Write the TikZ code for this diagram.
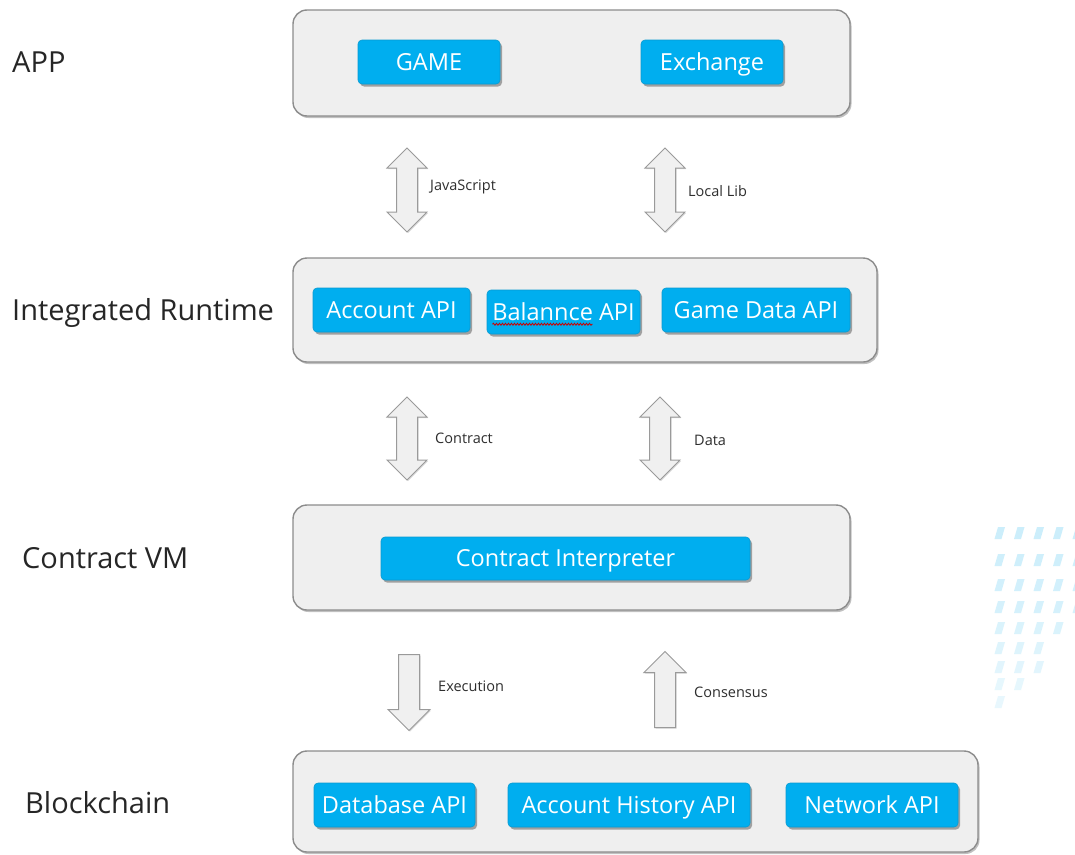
\documentclass[tikz,border=0pt]{standalone}
\usepackage{fontspec}
\setmainfont{Open Sans}
\usetikzlibrary{shapes.arrows,shadows,calc,decorations.pathmorphing}

\definecolor{layerfill}{HTML}{EFEFEF}
\definecolor{layerline}{HTML}{8C8C8C}
\definecolor{apiblue}{HTML}{00AEEF}
\definecolor{apiline}{HTML}{0A9AD0}
\definecolor{arrowfill}{HTML}{F0F0F0}
\definecolor{arrowline}{HTML}{9A9A9A}
\definecolor{notetext}{HTML}{2E2E2E}
\definecolor{labeltext}{HTML}{262626}
\definecolor{dotblue}{HTML}{C4ECFB}

\tikzset{
  layer/.style={draw=layerline, line width=1.4pt, fill=layerfill,
    rounded corners=14pt, inner sep=0pt,
    drop shadow={shadow xshift=1.5pt, shadow yshift=-2pt, opacity=0.35, fill=black!70}},
  api/.style={draw=apiline, line width=0.6pt, fill=apiblue, rounded corners=4pt,
    text=white, font=\fontsize{23.5}{26}\selectfont, inner sep=0pt,
    text height=17pt, text depth=0.5pt, minimum height=44pt,
    drop shadow={shadow xshift=2pt, shadow yshift=-2.5pt, opacity=0.45, fill=black!75}},
  tier/.style={anchor=base west, text=labeltext, font=\fontsize{29}{34}\selectfont, inner sep=0pt},
  note/.style={anchor=west, text=notetext, font=\fontsize{14.5}{17}\selectfont, inner sep=0pt},
  bothways/.style={double arrow, draw=arrowline, fill=arrowfill, line width=1pt,
    inner xsep=0pt, inner ysep=10pt, minimum width=39pt, double arrow head extend=9.5pt,
    double arrow tip angle=90, rotate=90,
    drop shadow={shadow xshift=1pt, shadow yshift=-1pt, opacity=0.25, fill=black!60}},
  oneway/.style={single arrow, draw=arrowline, fill=arrowfill, line width=1pt,
    inner xsep=0pt, inner ysep=10pt, minimum width=41pt, single arrow head extend=10.5pt,
    single arrow tip angle=90, anchor=tail,
    drop shadow={shadow xshift=1pt, shadow yshift=-1pt, opacity=0.25, fill=black!60}},
  spellcheck/.style={draw=red!80!black, line width=0.8pt,
    decorate, decoration={snake, amplitude=1pt, segment length=3pt}},
}

\begin{document}
\begin{tikzpicture}[x=1pt, y=-1pt]
\useasboundingbox[fill=white] (0,0) rectangle (1075,854);

% faint dotted pattern at the right edge
\foreach \row/\yy/\cnt/\op in {0/533/5/0.85, 1/560/5/0.8, 2/585/5/0.75, 3/607/5/0.7,
    4/628/4/0.62, 5/648/3/0.55, 6/667/3/0.48, 7/684/2/0.42, 8/702/1/0.38} {
  \foreach \col in {1,...,\cnt} {
    \pgfmathsetmacro{\xx}{978 + 19.5*\col}
    \fill[dotblue, opacity=\op] (\xx-3,\yy+6) -- (\xx+0.5,\yy-6) -- (\xx+7.5,\yy-6) -- (\xx+4,\yy+6) -- cycle;
  }
}

% tier titles
\node[tier] (tApp)  at (12,72)  {APP};
\node[tier] (tRun)  at (12,320) {Integrated Runtime};
\node[tier] (tVM)   at (22,568) {Contract VM};
\node[tier] (tBc)   at (25,813) {Blockchain};

% layer frames
\node[layer, minimum width=557pt, minimum height=106pt] (app) at (571.5,63) {};
\node[layer, minimum width=584pt, minimum height=104pt] (run) at (585,310) {};
\node[layer, minimum width=557pt, minimum height=105pt] (vm)  at (571.5,557.5) {};
\node[layer, minimum width=685pt, minimum height=101pt] (bc)  at (635.5,801.5) {};

% components
\node[api, minimum width=142pt] (game) at (429,62)  {GAME};
\node[api, minimum width=142pt] (exch) at (712,62)  {Exchange};

\node[api, minimum width=157pt] (acc)  at (391.5,310) {Account API};
\node[api, minimum width=153pt] (bal)  at (563.5,312) {Balannce API};
\node[api, minimum width=188pt] (gdat) at (756,310)   {Game Data API};

\node[api, minimum width=369pt, minimum height=43pt] (interp) at (565.5,558.5) {Contract Interpreter};

\node[api, minimum width=161pt] (db)   at (394.5,805) {Database API};
\node[api, minimum width=242pt] (hist) at (629,805)   {Account History API};
\node[api, minimum width=172pt] (net)  at (872,805)   {Network API};

% spell-check mark under the misspelt word
\draw[spellcheck] ($(bal.base)+(-71,4)$) -- ++(100,0);

% flows between layers
\node[bothways, minimum height=84pt] (jsArr)  at (407,190)   {};
\node[bothways, minimum height=84pt] (libArr) at (665,190)   {};
\node[bothways, minimum height=83pt] (ctArr)  at (407,438.5) {};
\node[bothways, minimum height=83pt] (daArr)  at (660,438.5) {};
\node[oneway, minimum height=76pt, rotate=-90] (exArr) at (409,654) {};
\node[oneway, minimum height=76pt, rotate=90]  (csArr) at (665,728) {};

\node[note] (lJs)  at (430,187) {JavaScript};
\node[note] (lLib) at (688,191) {Local Lib};
\node[note] (lCt)  at (435,438) {Contract};
\node[note] (lDa)  at (694,440) {Data};
\node[note] (lEx)  at (438,686) {Execution};
\node[note] (lCs)  at (694,692) {Consensus};
\end{tikzpicture}
\end{document}
